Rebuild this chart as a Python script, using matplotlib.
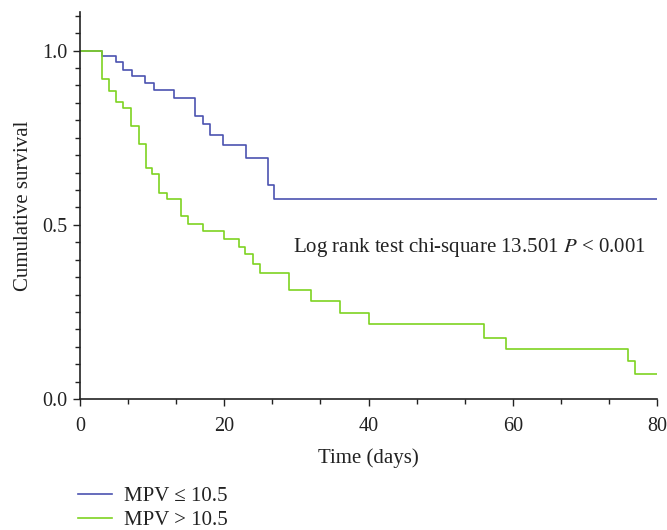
import matplotlib
matplotlib.use("Agg")
import matplotlib.pyplot as plt
from matplotlib.ticker import MultipleLocator

plt.rcParams['font.family'] = ['Liberation Serif', 'DejaVu Serif']
plt.rcParams['mathtext.fontset'] = 'stix'

# Kaplan-Meier step data (time in days, cumulative survival after the step)
blue_times = [0, 3.0, 5.0, 6.0, 7.2, 9.0, 10.2, 13.0, 16.0, 17.0, 18.0, 19.8, 23.0, 26.1, 26.9, 80]
blue_surv = [1.0, 0.984, 0.966, 0.945, 0.928, 0.907, 0.887, 0.865, 0.812, 0.789, 0.757, 0.730, 0.691, 0.615, 0.573, 0.573]

green_times = [0, 3.0, 4.0, 5.0, 6.0, 7.0, 8.2, 9.1, 10.0, 11.0, 12.0, 14.0, 15.0, 17.0, 20.0, 22.0,
               22.9, 24.0, 25.0, 29.0, 32.0, 36.0, 40.0, 56.0, 59.0, 76.0, 77.0, 80]
green_surv = [1.0, 0.917, 0.883, 0.852, 0.834, 0.783, 0.731, 0.664, 0.645, 0.592, 0.575, 0.525, 0.503,
              0.483, 0.460, 0.437, 0.415, 0.389, 0.363, 0.313, 0.281, 0.248, 0.215, 0.175, 0.143,
              0.110, 0.072, 0.072]

labels = ["MPV \u2264 10.5", "MPV > 10.5"]
annotation = "Log rank test chi-square 13.501 $\\mathit{P}$ < 0.001"

blue = "#4b53b0"
green = "#7ed321"
ink = "#222222"

fig = plt.figure(figsize=(6.67, 5.30), dpi=100)
ax = fig.add_axes([0.12, 0.247, 0.865, 0.73])

l1, = ax.step(blue_times, blue_surv, where="post", color=blue, lw=1.2)
l2, = ax.step(green_times, green_surv, where="post", color=green, lw=1.2)

ax.set_xlim(0, 80)
ax.set_ylim(0, 1.11)
ax.set_xticks([0, 20, 40, 60, 80])
ax.set_yticks([0.0, 0.5, 1.0])
ax.set_yticklabels(["0.0", "0.5", "1.0"])
ax.xaxis.set_minor_locator(MultipleLocator(20 / 3))
ax.yaxis.set_minor_locator(MultipleLocator(0.05))
ax.tick_params(which="major", direction="out", length=5, width=1, labelsize=14.5, colors=ink)
ax.tick_params(axis="x", which="major", pad=8)
ax.tick_params(axis="y", which="major", pad=4)
ax.tick_params(which="minor", direction="out", length=3.5, width=1, colors=ink)
for s in ["top", "right"]:
    ax.spines[s].set_visible(False)
for s in ["left", "bottom"]:
    ax.spines[s].set_linewidth(1.2)
    ax.spines[s].set_color(ink)

ax.set_xlabel("Time (days)", fontsize=15, color=ink, labelpad=9)
ax.set_ylabel("Cumulative survival", fontsize=15, color=ink, labelpad=7)

ax.text(29.5, 0.435, annotation, fontsize=15, color=ink, va="center", ha="left")

fig.legend([l1, l2], labels, loc="upper left", bbox_to_anchor=(0.117, 0.0815),
           frameon=False, fontsize=15, handlelength=1.65, handletextpad=0.55,
           labelspacing=0.2, borderpad=0, borderaxespad=0, labelcolor=ink)

fig.savefig("out.png", dpi=100)
